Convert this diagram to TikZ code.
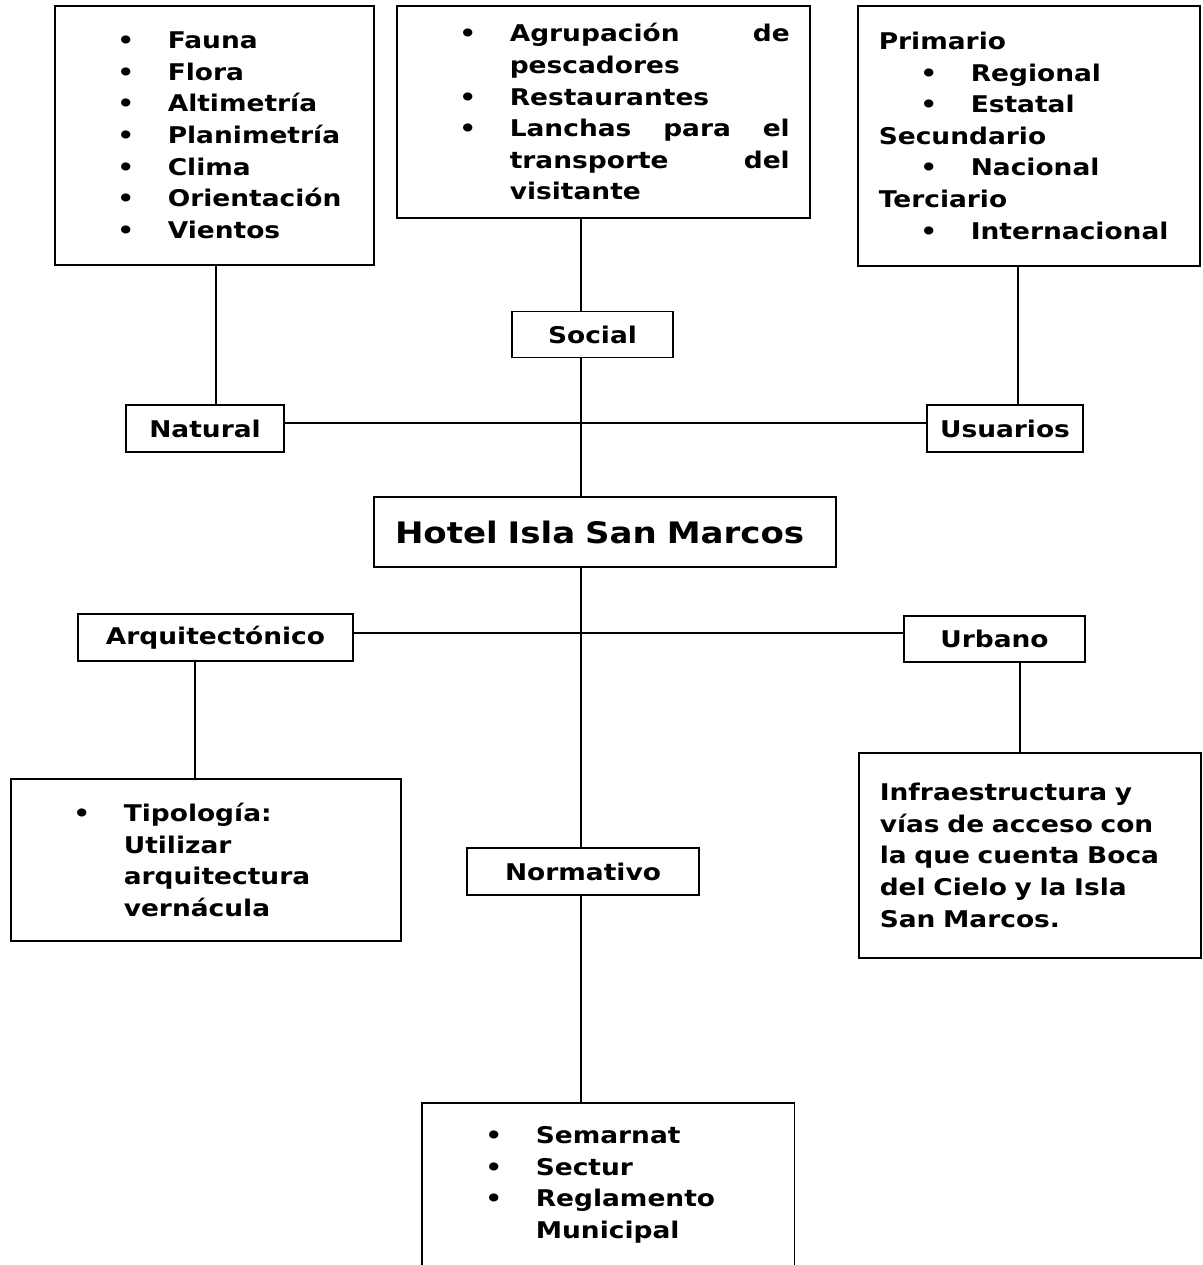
\documentclass[tikz,border=0pt]{standalone}
\usepackage{fontspec}
\setmainfont{DejaVu Sans}[FakeStretch=1.15]
\newcommand{\itm}{\hspace*{20.8pt}\makebox[25.2pt][l]{\textbullet}}
\newcommand{\cnt}{\hspace*{46pt}}

\begin{document}
\begin{tikzpicture}[x=0.5pt,y=-0.5pt,
    lista/.style={draw, line width=0.8pt, anchor=north west, align=left,
      inner xsep=10.5pt, inner ysep=0pt,
      font=\fontsize{11.5}{15.8}\selectfont\bfseries},
    rotulo/.style={draw, line width=0.8pt, inner sep=0pt,
      font=\fontsize{11.5}{15.8}\selectfont\bfseries}]
    \useasboundingbox (0,0) rectangle (1203,1265);
    \coordinate (spine) at (581,0);
    \coordinate (stemN) at (216,0);
    \coordinate (stemU) at (1018,0);
    \coordinate (stemA) at (195,0);
    \coordinate (stemR) at (1020,0);
    \coordinate (barra1) at (0,423);
    \coordinate (barra2) at (0,633);

    \node[lista, text width=138.5pt, minimum height=129.5pt] (natbox) at (54,5)
      {\itm Fauna\\ \itm Flora\\ \itm Altimetría\\ \itm Planimetría\\
       \itm Clima\\ \itm Orientación\\ \itm Vientos};
    \node[lista, text width=185.5pt, minimum height=106pt] (grupos) at (396,5)
      {\itm\makebox[140pt]{Agrupación\hfill de}\\ \cnt pescadores\\ \itm Restaurantes\\
       \itm\makebox[140pt]{Lanchas\hfill para\hfill el}\\ \cnt\makebox[140pt]{transporte\hfill del}\\
       \cnt visitante};
    \node[lista, text width=150pt, minimum height=130pt] (perfil) at (857,5)
      {Primario\\ \itm Regional\\ \itm Estatal\\ Secundario\\ \itm Nacional\\
       Terciario\\ \itm Internacional};

    \node[rotulo, minimum width=80.5pt, minimum height=23pt] (social) at (592.5,334.5) {Social};
    \node[rotulo, minimum width=79pt, minimum height=23.5pt] (natural) at (205,428.5) {Natural};
    \node[rotulo, minimum width=78pt, minimum height=23.5pt] (usuarios) at (1005,428.5) {Usuarios};
    \node[draw, line width=0.8pt, align=left, text width=210pt, inner xsep=10.5pt,
      minimum height=35pt, font=\fontsize{14.8}{17}\selectfont\bfseries] (hotel) at (605,532)
      {Hotel Isla San Marcos};
    \node[rotulo, minimum width=137.5pt, minimum height=23.5pt] (arq) at (215.5,637.5) {Arquitectónico};
    \node[rotulo, minimum width=90.5pt, minimum height=23pt] (urbano) at (994.5,639) {Urbano};
    \node[rotulo, minimum width=116pt, minimum height=23.5pt] (normativo) at (583,871.5) {Normativo};

    \node[lista, text width=174pt, minimum height=81pt] (tipologia) at (10,778)
      {\itm Tipología:\\ \cnt Utilizar\\ \cnt arquitectura\\ \cnt vernácula};
    \node[lista, text width=150pt, minimum height=102.5pt] (infra) at (858,752)
      {Infraestructura y\\ vías de acceso con\\ la que cuenta Boca\\ del Cielo y la Isla\\
       San Marcos.};
    \node[lista, draw=none, text width=164.5pt, minimum height=81pt] (normas) at (422,1103)
      {\itm Semarnat\\ \itm Sectur\\ \itm Reglamento\\ \cnt Municipal};

    \draw[line width=0.8pt] (normas.south west) -- (normas.north west)
      -- (normas.north east) -- (normas.south east);
    \draw[line width=0.8pt] (natbox.south -| stemN) -- (natural.north -| stemN)
      (grupos.south -| spine) -- (social.north -| spine)
      (social.south -| spine) -- (hotel.north -| spine)
      (hotel.south -| spine) -- (normativo.north -| spine)
      (normativo.south -| spine) -- (normas.north -| spine)
      (perfil.south -| stemU) -- (usuarios.north -| stemU)
      (natural.east |- barra1) -- (usuarios.west |- barra1)
      (arq.east |- barra2) -- (urbano.west |- barra2)
      (arq.south -| stemA) -- (tipologia.north -| stemA)
      (urbano.south -| stemR) -- (infra.north -| stemR);
\end{tikzpicture}
\end{document}
